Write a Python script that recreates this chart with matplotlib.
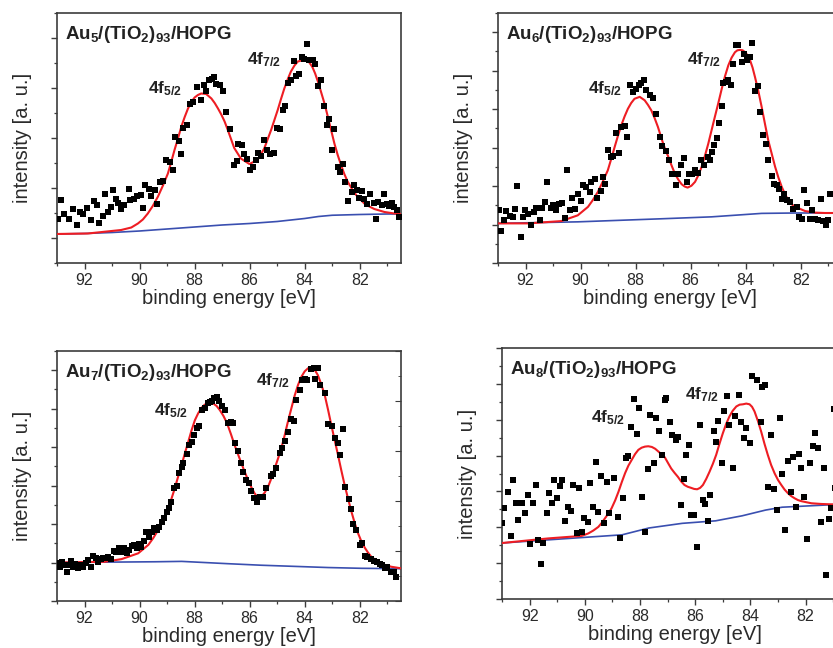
import matplotlib
matplotlib.use("Agg")
import matplotlib.pyplot as plt
from matplotlib.ticker import MultipleLocator, NullFormatter

plt.rcParams['font.family'] = ['Liberation Sans', 'DejaVu Sans']
plt.rcParams['mathtext.fontset'] = 'custom'
plt.rcParams['mathtext.rm'] = 'Liberation Sans'
plt.rcParams['mathtext.bf'] = 'Liberation Sans:bold'
plt.rcParams['mathtext.it'] = 'Liberation Sans:italic'

# ---------------- data ----------------
titles = [r'$\mathbf{Au_5/(TiO_2)_{93}/HOPG}$', r'$\mathbf{Au_6/(TiO_2)_{93}/HOPG}$',
          r'$\mathbf{Au_7/(TiO_2)_{93}/HOPG}$', r'$\mathbf{Au_8/(TiO_2)_{93}/HOPG}$']
peak_labels = [r'$\mathbf{4f_{5/2}}$', r'$\mathbf{4f_{7/2}}$']
x_ticks = [92, 90, 88, 86, 84, 82]

# Au5 measured points
e5 = [92.97, 92.87, 92.73, 92.58, 92.42, 92.27, 92.18, 92.06, 91.90, 91.78, 91.64, 91.54, 91.48,
      91.33, 91.27, 91.15, 91.05, 90.97, 90.85, 90.79, 90.67, 90.55, 90.40, 90.33, 90.21, 90.08,
      89.96, 89.88, 89.79, 89.67, 89.58, 89.45, 89.38, 89.27, 89.15, 89.03, 88.91, 88.79, 88.70,
      88.58, 88.48, 88.41, 88.27, 88.18, 88.06, 87.90, 87.78, 87.66, 87.58, 87.49, 87.37, 87.30,
      87.21, 87.09, 86.97, 86.85, 86.70, 86.58, 86.46, 86.44, 86.29, 86.19, 86.10, 85.98, 85.89,
      85.77, 85.68, 85.59, 85.49, 85.37, 85.25, 85.13, 85.01, 84.88, 84.80, 84.72, 84.62, 84.50,
      84.40, 84.32, 84.19, 84.11, 84.01, 83.92, 83.83, 83.71, 83.62, 83.50, 83.41, 83.31, 83.20,
      83.10, 83.01, 82.92, 82.80, 82.70, 82.62, 82.52, 82.41, 82.29, 82.19, 82.10, 82.01, 81.93,
      81.83, 81.73, 81.61, 81.49, 81.41, 81.32, 81.20, 81.10, 81.01, 80.92, 80.84, 80.74, 80.64,
      80.56]
i5 = [0.39, 0.77, 0.49, 0.39, 0.59, 0.26, 0.53, 0.49, 0.61, 0.36, 0.75, 0.66, 0.31,
      0.44, 0.88, 0.53, 0.63, 0.96, 0.79, 0.71, 0.59, 0.67, 0.99, 0.76, 0.79, 0.84,
      0.86, 0.60, 1.06, 0.99, 0.84, 0.96, 0.68, 1.13, 1.14, 1.56, 1.53, 1.37, 2.03,
      1.95, 1.68, 2.21, 2.26, 2.68, 2.73, 3.03, 2.76, 3.06, 2.95, 3.17, 3.19, 3.23,
      3.09, 3.06, 2.95, 2.52, 2.19, 1.46, 1.55, 1.89, 1.86, 1.68, 1.59, 1.37, 1.43,
      1.56, 1.71, 1.64, 1.97, 1.77, 1.68, 1.71, 2.21, 2.19, 2.56, 2.64, 3.11, 3.17,
      3.55, 3.25, 3.29, 3.63, 3.59, 3.89, 3.56, 3.56, 3.48, 3.05, 3.16, 2.64, 2.27,
      2.39, 1.76, 2.19, 1.43, 1.33, 1.48, 1.13, 0.75, 0.93, 1.06, 0.97, 0.81, 0.95,
      0.79, 0.68, 0.88, 0.71, 0.39, 0.73, 0.66, 0.88, 0.69, 0.64, 0.71, 0.63, 0.57,
      0.43]
fit5_e = [93.05, 91.88, 90.67, 90.30, 90.06, 89.88, 89.70, 89.52, 89.33, 89.15, 88.97, 88.85, 88.73,
          88.60, 88.48, 88.36, 88.24, 88.12, 88.00, 87.88, 87.76, 87.58, 87.39, 87.27, 87.15, 87.03,
          86.91, 86.80, 86.56, 86.32, 86.01, 85.71, 85.47, 85.22, 85.10, 84.98, 84.86, 84.74, 84.62,
          84.50, 84.37, 84.25, 84.04, 83.94, 83.83, 83.72, 83.62, 83.52, 83.41, 83.28, 83.16, 83.04,
          82.92, 82.80, 82.68, 82.56, 82.44, 82.28, 82.13, 81.98, 81.83, 81.65, 81.47, 81.10, 80.74,
          80.50]
fit5_i = [0.08, 0.09, 0.16, 0.21, 0.29, 0.37, 0.49, 0.64, 0.83, 1.05, 1.29, 1.52, 1.76,
          2.00, 2.23, 2.42, 2.59, 2.72, 2.81, 2.86, 2.89, 2.88, 2.79, 2.70, 2.59, 2.47,
          2.33, 2.17, 1.80, 1.59, 1.48, 1.56, 1.79, 2.16, 2.36, 2.56, 2.78, 2.99, 3.17,
          3.33, 3.45, 3.53, 3.56, 3.55, 3.51, 3.42, 3.29, 3.13, 2.93, 2.69, 2.43, 2.16,
          1.89, 1.66, 1.46, 1.28, 1.13, 0.98, 0.86, 0.77, 0.69, 0.63, 0.58, 0.52, 0.49,
          0.48]
bg5_e = [93.05, 92.0, 91.0, 90.0, 89.0, 88.0, 87.0, 86.0, 85.0, 84.5, 84.0, 83.5, 83.0, 82.0, 81.0, 80.5]
bg5_i = [0.08, 0.09, 0.11, 0.14, 0.18, 0.22, 0.26, 0.29, 0.33, 0.36, 0.39, 0.43, 0.455, 0.47, 0.48, 0.48]

# Au6 measured points
e6 = [92.98, 92.88, 92.79, 92.70, 92.58, 92.46, 92.38, 92.30, 92.18, 92.10, 92.01, 91.92, 91.79,
      91.70, 91.61, 91.49, 91.41, 91.28, 91.21, 91.09, 90.99, 90.88, 90.80, 90.68, 90.58, 90.48,
      90.40, 90.32, 90.22, 90.10, 89.98, 89.92, 89.79, 89.67, 89.61, 89.49, 89.39, 89.27, 89.19,
      89.10, 89.01, 88.91, 88.81, 88.70, 88.62, 88.52, 88.40, 88.30, 88.22, 88.10, 87.98, 87.89,
      87.79, 87.70, 87.61, 87.49, 87.37, 87.25, 87.13, 87.04, 86.91, 86.79, 86.69, 86.55, 86.45,
      86.35, 86.24, 86.15, 86.06, 85.94, 85.84, 85.75, 85.62, 85.50, 85.38, 85.30, 85.24, 85.14,
      85.05, 84.97, 84.87, 84.81, 84.73, 84.63, 84.53, 84.45, 84.36, 84.27, 84.15, 84.05, 83.96,
      83.84, 83.76, 83.66, 83.54, 83.48, 83.36, 83.27, 83.18, 83.05, 82.96, 82.87, 82.79, 82.69,
      82.59, 82.51, 82.39, 82.27, 82.15, 82.06, 81.96, 81.87, 81.77, 81.66, 81.58, 81.48, 81.36,
      81.26, 81.18, 81.09, 81.00, 80.93]
i6 = [0.37, -0.17, 0.11, 0.35, 0.22, 0.20, 0.41, 0.99, -0.32, 0.20, 0.37, 0.28, 0.00,
      0.33, 0.43, 0.13, 0.42, 0.58, 1.11, 0.42, 0.50, 0.39, 0.54, 0.56, 0.17, 1.43,
      0.39, 0.70, 0.41, 0.80, 0.61, 1.02, 0.98, 0.85, 1.11, 1.19, 0.70, 0.87, 1.24,
      1.05, 1.93, 1.76, 1.77, 2.38, 1.86, 2.54, 2.55, 2.28, 3.64, 3.45, 3.53, 3.62,
      3.68, 3.75, 3.51, 3.38, 3.30, 2.88, 2.28, 2.05, 1.91, 1.69, 1.32, 1.02, 1.32,
      1.54, 1.74, 1.11, 1.31, 1.31, 1.41, 1.34, 1.69, 1.54, 1.76, 1.69, 1.89, 2.06,
      2.26, 2.64, 3.07, 3.68, 3.70, 3.75, 3.62, 4.18, 4.68, 4.66, 4.22, 4.44, 4.27,
      4.35, 4.72, 3.47, 3.59, 2.93, 2.34, 2.10, 1.67, 1.25, 1.06, 1.02, 0.93, 0.67,
      0.80, 0.63, 0.59, 0.41, 0.46, 0.20, 0.15, 0.89, 0.56, 0.15, 0.37, 0.15, 0.11,
      0.67, 0.09, -0.02, 0.13, 0.80]
fit6_e = [93.10, 91.90, 90.70, 90.10, 89.73, 89.55, 89.37, 89.19, 89.01, 88.88, 88.76, 88.64, 88.52,
          88.40, 88.28, 88.16, 88.04, 87.85, 87.67, 87.55, 87.43, 87.31, 87.19, 87.01, 86.91, 86.81,
          86.69, 86.57, 86.45, 86.33, 86.22, 86.11, 85.97, 85.84, 85.72, 85.60, 85.48, 85.36, 85.24,
          85.12, 84.99, 84.87, 84.75, 84.63, 84.51, 84.39, 84.30, 84.21, 84.11, 84.02, 83.93, 83.84,
          83.75, 83.66, 83.54, 83.42, 83.30, 83.18, 83.05, 82.93, 82.81, 82.69, 82.57, 82.45, 82.33,
          82.21, 82.00, 81.84, 81.48, 81.12, 80.50]
fit6_i = [0.03, 0.03, 0.09, 0.24, 0.46, 0.64, 0.85, 1.12, 1.41, 1.72, 2.02, 2.31, 2.58,
          2.81, 3.01, 3.16, 3.27, 3.32, 3.23, 3.11, 2.97, 2.77, 2.54, 2.13, 1.93, 1.76,
          1.53, 1.32, 1.17, 1.05, 0.99, 0.96, 1.01, 1.11, 1.28, 1.50, 1.79, 2.10, 2.45,
          2.80, 3.17, 3.53, 3.86, 4.14, 4.34, 4.48, 4.53, 4.54, 4.53, 4.48, 4.40, 4.27,
          4.08, 3.83, 3.47, 3.06, 2.62, 2.19, 1.83, 1.50, 1.22, 0.98, 0.79, 0.63, 0.53,
          0.46, 0.40, 0.35, 0.31, 0.30, 0.30]
bg6_e = [93.10, 90.10, 87.05, 85.24, 83.42, 82.21, 80.50]
bg6_i = [0.03, 0.07, 0.15, 0.20, 0.29, 0.30, 0.30]

# Au7 measured points
e7 = [92.98, 92.90, 92.81, 92.72, 92.65, 92.57, 92.50, 92.41, 92.33, 92.23, 92.13, 92.05, 91.96,
      91.87, 91.77, 91.68, 91.60, 91.50, 91.41, 91.32, 91.24, 91.14, 91.04, 90.92, 90.84, 90.75,
      90.65, 90.56, 90.47, 90.39, 90.29, 90.19, 90.11, 90.02, 89.93, 89.83, 89.75, 89.66, 89.56,
      89.47, 89.38, 89.30, 89.20, 89.10, 89.02, 88.93, 88.84, 88.74, 88.65, 88.57, 88.47, 88.41,
      88.29, 88.21, 88.11, 88.01, 87.93, 87.84, 87.72, 87.62, 87.53, 87.44, 87.36, 87.28, 87.20,
      87.12, 87.02, 86.90, 86.80, 86.69, 86.61, 86.52, 86.42, 86.33, 86.24, 86.12, 86.04, 85.94,
      85.84, 85.72, 85.64, 85.52, 85.39, 85.24, 85.15, 85.03, 84.91, 84.82, 84.70, 84.61, 84.48,
      84.39, 84.30, 84.18, 84.10, 84.00, 83.90, 83.78, 83.66, 83.61, 83.52, 83.45, 83.27, 83.15,
      83.01, 82.91, 82.79, 82.73, 82.61, 82.52, 82.40, 82.33, 82.24, 82.12, 82.00, 81.92, 81.82,
      81.72, 81.60, 81.48, 81.39, 81.27, 81.19, 81.09, 81.00, 80.87, 80.75, 80.67]
i7 = [-0.02, -0.11, 0.02, -0.06, -0.25, -0.06, 0.04, -0.11, -0.04, -0.15, -0.06, -0.11, -0.02,
      0.07, -0.11, 0.18, 0.13, 0.02, 0.09, 0.13, 0.11, 0.15, 0.09, 0.30, 0.27, 0.37,
      0.28, 0.39, 0.24, 0.33, 0.44, 0.46, 0.39, 0.47, 0.41, 0.56, 0.79, 0.67, 0.79,
      0.91, 0.85, 0.93, 1.06, 1.15, 1.32, 1.43, 1.57, 1.93, 2.00, 2.32, 2.49, 2.58,
      2.81, 3.06, 3.14, 3.32, 3.51, 3.56, 3.96, 4.01, 4.14, 4.18, 4.20, 4.27, 4.31,
      4.20, 4.08, 3.96, 3.62, 3.66, 3.64, 3.10, 2.90, 2.58, 2.36, 2.15, 2.06, 1.86,
      1.67, 1.58, 1.71, 1.71, 1.93, 2.26, 2.29, 2.45, 2.84, 2.99, 3.16, 3.40, 3.73,
      3.68, 4.22, 4.48, 4.74, 4.77, 4.74, 5.03, 5.05, 4.77, 5.05, 4.61, 4.40, 3.59,
      3.56, 3.23, 3.10, 2.80, 3.47, 1.97, 1.65, 1.39, 0.99, 0.85, 0.46, 0.50, 0.18,
      0.15, 0.09, 0.04, 0.02, -0.04, -0.06, -0.15, -0.11, -0.25, -0.25, -0.37]
fit7_e = [93.05, 91.26, 90.65, 90.05, 89.68, 89.50, 89.32, 89.14, 88.96, 88.84, 88.72, 88.60, 88.47,
          88.35, 88.23, 88.11, 87.99, 87.87, 87.75, 87.64, 87.53, 87.43, 87.33, 87.20, 87.08, 86.95,
          86.82, 86.68, 86.55, 86.42, 86.30, 86.18, 86.06, 85.94, 85.82, 85.70, 85.58, 85.45, 85.33,
          85.21, 85.09, 84.97, 84.85, 84.73, 84.61, 84.48, 84.36, 84.24, 84.12, 84.00, 83.88, 83.79,
          83.70, 83.61, 83.52, 83.40, 83.27, 83.15, 83.03, 82.91, 82.79, 82.67, 82.55, 82.42, 82.30,
          82.18, 82.06, 81.94, 81.82, 81.70, 81.58, 81.45, 81.33, 81.09, 80.85, 80.50]
fit7_i = [0.00, 0.02, 0.09, 0.24, 0.46, 0.64, 0.85, 1.12, 1.41, 1.66, 1.93, 2.23, 2.54,
          2.85, 3.14, 3.44, 3.70, 3.88, 4.02, 4.10, 4.15, 4.16, 4.14, 4.07, 3.96, 3.81,
          3.62, 3.34, 3.06, 2.81, 2.58, 2.36, 2.15, 1.96, 1.80, 1.69, 1.71, 1.82, 1.97,
          2.19, 2.45, 2.70, 2.97, 3.30, 3.66, 4.02, 4.35, 4.62, 4.83, 4.97, 5.05, 5.07,
          5.05, 4.98, 4.87, 4.64, 4.35, 3.97, 3.57, 3.18, 2.80, 2.40, 2.02, 1.65, 1.32,
          1.02, 0.76, 0.55, 0.39, 0.26, 0.15, 0.08, 0.02, -0.06, -0.11, -0.15]
bg7_e = [93.05, 89.44, 88.47, 86.79, 85.58, 84.36, 83.15, 81.94, 80.50]
bg7_i = [0.00, 0.02, 0.03, -0.03, -0.07, -0.10, -0.13, -0.15, -0.16]

# Au8 measured points
e8 = [92.99, 92.92, 92.80, 92.68, 92.59, 92.51, 92.41, 92.35, 92.27, 92.17, 92.07, 91.99, 91.89,
      91.78, 91.69, 91.59, 91.50, 91.38, 91.30, 91.20, 91.11, 91.02, 90.90, 90.82, 90.72, 90.62,
      90.50, 90.42, 90.29, 90.21, 90.11, 90.02, 89.90, 89.81, 89.69, 89.61, 89.51, 89.41, 89.29,
      89.21, 89.12, 88.93, 88.81, 88.72, 88.60, 88.52, 88.42, 88.32, 88.20, 88.12, 88.03, 87.91,
      87.82, 87.72, 87.63, 87.51, 87.43, 87.31, 87.21, 87.11, 87.05, 86.93, 86.85, 86.69, 86.63,
      86.53, 86.41, 86.33, 86.24, 86.15, 86.03, 85.93, 85.81, 85.72, 85.64, 85.54, 85.45, 85.32,
      85.24, 85.16, 85.03, 84.94, 84.84, 84.76, 84.64, 84.55, 84.43, 84.33, 84.24, 84.15, 84.03,
      83.95, 83.75, 83.63, 83.58, 83.46, 83.37, 83.24, 83.15, 83.05, 82.94, 82.86, 82.74, 82.64,
      82.54, 82.46, 82.34, 82.25, 82.16, 82.06, 81.94, 81.85, 81.73, 81.65, 81.55, 81.45, 81.33,
      81.25, 81.16, 81.07, 80.98, 80.95]
i8 = [1.11, 1.55, 1.99, 0.76, 2.32, 1.67, 1.20, 1.67, 1.67, 1.39, 1.90, 0.52, 1.67,
      2.18, 0.64, -0.01, 0.57, 1.39, 1.95, 1.67, 2.32, 1.81, 2.16, 2.32, 1.17, 1.57,
      1.45, 2.18, 0.83, 2.10, 0.88, 1.25, 1.14, 2.24, 1.57, 2.83, 1.43, 2.44, 1.13,
      2.27, 1.39, 2.38, 1.30, 0.71, 1.81, 2.92, 2.99, 3.81, 4.58, 3.59, 4.34, 1.85,
      0.88, 2.63, 4.12, 2.78, 4.06, 3.69, 3.02, 4.55, 4.60, 3.93, 3.56, 3.44, 3.53,
      1.62, 2.36, 3.02, 3.30, 1.34, 1.34, 0.46, 3.84, 1.76, 1.65, 1.17, 1.90, 3.69,
      3.37, 3.97, 2.78, 4.25, 4.65, 3.84, 2.66, 4.11, 4.69, 3.93, 3.50, 3.78, 3.34,
      5.23, 5.11, 3.95, 4.90, 4.97, 2.13, 3.58, 2.07, 1.48, 4.06, 2.50, 0.92, 2.85,
      1.99, 2.97, 1.57, 3.04, 2.64, 1.85, 0.67, 2.78, 3.28, 3.62, 3.20, 1.15, 2.66,
      -0.32, 1.23, 1.55, 4.30, 2.10]
fit8_e = [93.02, 91.32, 90.11, 89.87, 89.69, 89.51, 89.39, 89.27, 89.15, 89.03, 88.90, 88.78, 88.66,
          88.54, 88.42, 88.30, 88.18, 88.06, 87.94, 87.82, 87.70, 87.57, 87.45, 87.33, 87.10, 86.99,
          86.87, 86.75, 86.63, 86.51, 86.39, 86.27, 86.15, 86.04, 85.93, 85.82, 85.72, 85.60, 85.48,
          85.36, 85.24, 85.12, 85.00, 84.88, 84.76, 84.64, 84.51, 84.39, 84.27, 84.15, 84.03, 83.94,
          83.85, 83.73, 83.61, 83.49, 83.37, 83.25, 83.12, 83.00, 82.88, 82.76, 82.64, 82.52, 82.40,
          82.28, 82.16, 81.98, 81.79, 81.43, 81.07, 80.50]
fit8_i = [0.56, 0.69, 0.76, 0.83, 0.91, 1.01, 1.12, 1.25, 1.38, 1.53, 1.75, 1.99, 2.26,
          2.51, 2.72, 2.88, 3.04, 3.16, 3.22, 3.25, 3.26, 3.24, 3.19, 3.11, 2.95, 2.80,
          2.64, 2.52, 2.41, 2.28, 2.18, 2.13, 2.10, 2.07, 2.06, 2.10, 2.18, 2.35, 2.55,
          2.77, 3.02, 3.33, 3.62, 3.88, 4.09, 4.25, 4.37, 4.42, 4.43, 4.45, 4.43, 4.36,
          4.23, 3.97, 3.67, 3.33, 3.02, 2.74, 2.50, 2.32, 2.18, 2.05, 1.95, 1.87, 1.81,
          1.76, 1.73, 1.70, 1.67, 1.65, 1.64, 1.64]
bg8_e = [93.03, 88.65, 88.29, 87.68, 86.47, 85.26, 84.30, 83.45, 82.85, 81.03, 80.50]
bg8_i = [0.56, 0.79, 0.86, 0.98, 1.11, 1.18, 1.32, 1.48, 1.56, 1.63, 1.64]

# --------------- figure ---------------
W, H = 833, 648
fig = plt.figure(figsize=(W / 100, H / 100), dpi=100)

def px_axes(left, top, width, height):
    return fig.add_axes([left / W, 1 - (top + height) / H, width / W, height / H])

panels = [
    dict(rect=(57, 13, 344, 250), ylim=(-0.5, 4.5), e=e5, i=i5, fe=fit5_e, fi=fit5_i, be=bg5_e, bi=bg5_i,
         lab=[(89.71, 2.89), (86.10, 3.48)], title=titles[0], right=False),
    dict(rect=(498, 13, 344, 250), ylim=(-1.0, 5.5), e=e6, i=i6, fe=fit6_e, fi=fit6_i, be=bg6_e, bi=bg6_i,
         lab=[(89.73, 3.42), (86.12, 4.16)], title=titles[1], right=False),
    dict(rect=(57, 351, 344, 250), ylim=(-1.0, 5.5), e=e7, i=i7, fe=fit7_e, fi=fit7_i, be=bg7_e, bi=bg7_i,
         lab=[(89.49, 3.83), (85.78, 4.61)], title=titles[2], right=True),
    dict(rect=(502, 348, 345, 251), ylim=(-1.0, 6.0), e=e8, i=i8, fe=fit8_e, fi=fit8_i, be=bg8_e, bi=bg8_i,
         lab=[(89.76, 3.93), (86.38, 4.58)], title=titles[3], right=False),
]

spine_col = '#3c3c3c'
text_col = '#2a2a2a'

for p in panels:
    ax = px_axes(*p['rect'])
    ax.set_xlim(93.0, 80.5)
    ax.set_ylim(*p['ylim'])
    ax.plot(p['be'], p['bi'], color='#3a4fb0', lw=1.2, zorder=2)
    ax.plot(p['fe'], p['fi'], color='#ee1d23', lw=1.5, zorder=3, solid_joinstyle='round')
    ax.plot(p['e'], p['i'], ls='none', marker='s', ms=4.0, mew=0, color='black', zorder=4)

    ax.set_xticks(x_ticks)
    ax.xaxis.set_minor_locator(MultipleLocator(1))
    ax.yaxis.set_major_locator(MultipleLocator(1))
    ax.yaxis.set_minor_locator(MultipleLocator(0.5))
    ax.yaxis.set_major_formatter(NullFormatter())
    ax.tick_params(axis='both', which='major', direction='out', length=4, width=1.0, color=spine_col,
                   labelsize=11.5, labelcolor=text_col, pad=3)
    ax.tick_params(axis='both', which='minor', direction='out', length=2.5, width=0.9, color=spine_col)
    ax.tick_params(axis='y', which='both', labelleft=False)
    for s in ax.spines.values():
        s.set_color(spine_col)
        s.set_linewidth(1.2)

    ax.set_xlabel('binding energy [eV]', fontsize=14.5, color=text_col, labelpad=1)
    ax.set_ylabel('intensity [a. u.]', fontsize=14.5, color=text_col, labelpad=14)

    ax.text(8 / p['rect'][2], 1 - 26 / p['rect'][3], p['title'], transform=ax.transAxes,
            fontsize=13.5, color='#222222', ha='left', va='baseline')
    for (le, li), lt in zip(p['lab'], peak_labels):
        ax.text(le, li, lt, fontsize=12.5, color='#222222', ha='left', va='baseline')

    if p['right']:
        ax2 = ax.twinx()
        ax2.set_ylim(0, 5)
        ax2.yaxis.set_major_locator(MultipleLocator(1))
        ax2.yaxis.set_minor_locator(MultipleLocator(0.5))
        ax2.tick_params(axis='y', which='major', direction='in', length=4, color=spine_col, labelright=False)
        ax2.tick_params(axis='y', which='minor', direction='in', length=2.5, color=spine_col)
        for s in ax2.spines.values():
            s.set_visible(False)

fig.savefig('out.png', dpi=100)
